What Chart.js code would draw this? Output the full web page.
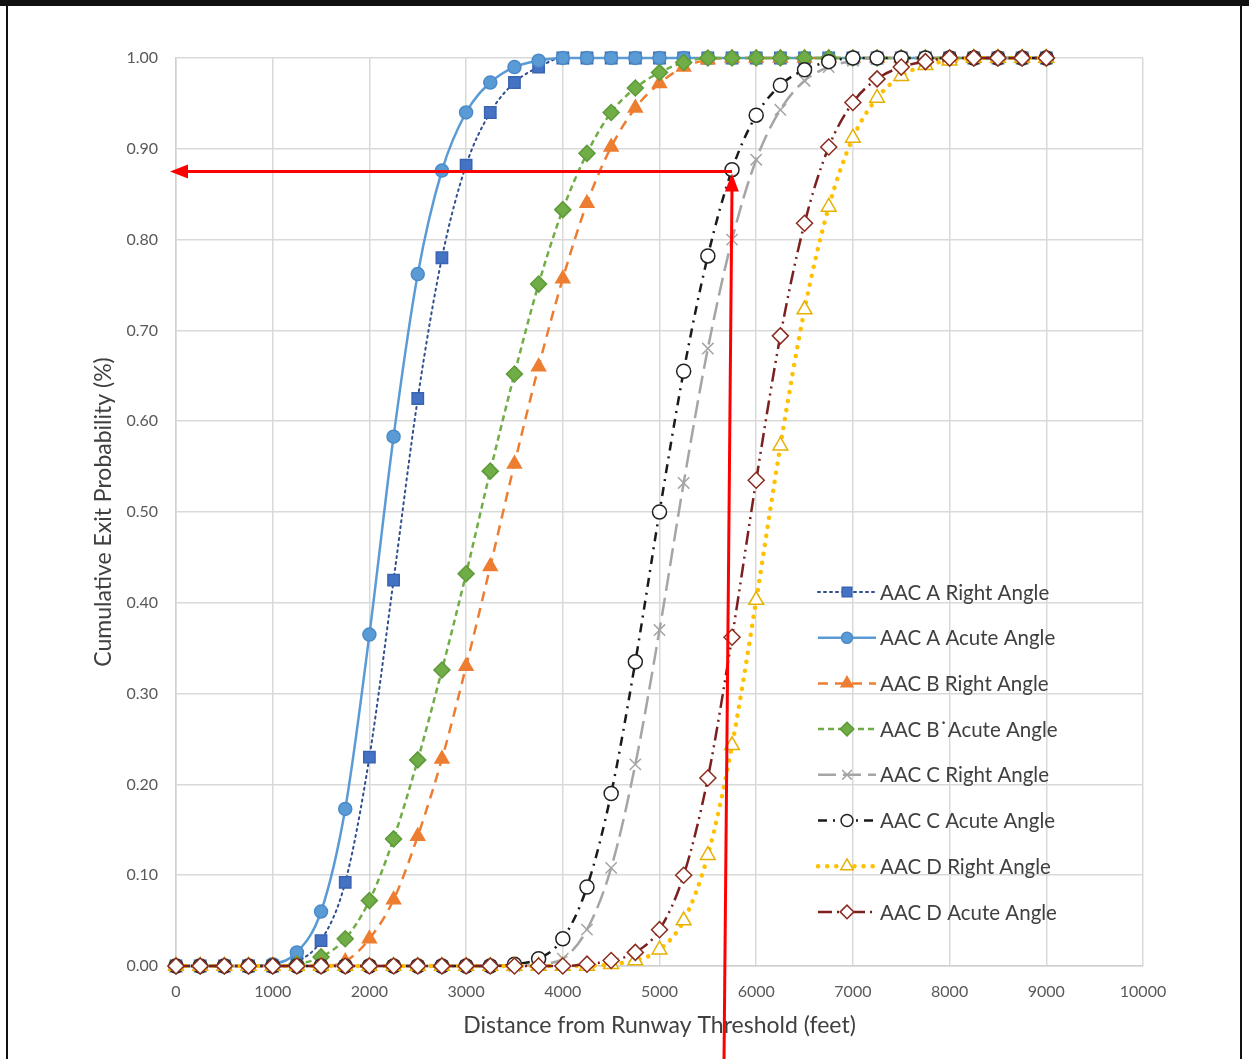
<!DOCTYPE html>
<html>
<head>
<meta charset="utf-8">
<script src="https://cdn.jsdelivr.net/npm/chart.js@4"></script>
<style>
  html, body { margin: 0; padding: 0; background: #fff; }
  #wrap { width: 1249px; height: 1059px; }
</style>
</head>
<body>
<div id="wrap"><canvas id="chart" width="1249" height="1059"></canvas></div>
<script>
// distance from threshold, every 250 ft
const distances = [0,250,500,750,1000,1250,1500,1750,2000,2250,2500,2750,3000,3250,3500,3750,4000,4250,4500,
  4750,5000,5250,5500,5750,6000,6250,6500,6750,7000,7250,7500,7750,8000,8250,8500,8750,9000]

const aRight = [0,0,0,0,0,0.005,0.028,0.092,0.23,0.425,0.625,0.78,0.882,0.94,0.973,0.99,1,1,1,
  1,1,1,1,1,1,1,1,1,1,1,1,1,1,1,1,1,1]
const aAcute = [0,0,0,0,0.002,0.015,0.06,0.173,0.365,0.583,0.762,0.876,0.94,0.973,0.99,0.997,1,1,1,
  1,1,1,1,1,1,1,1,1,1,1,1,1,1,1,1,1,1]
const bRight = [0,0,0,0,0,0,0,0.005,0.03,0.073,0.143,0.228,0.33,0.44,0.553,0.66,0.757,0.84,0.902,
  0.945,0.972,0.99,0.998,1,1,1,1,1,1,1,1,1,1,1,1,1,1]
const bAcute = [0,0,0,0,0,0.002,0.01,0.03,0.072,0.14,0.227,0.326,0.432,0.545,0.652,0.751,0.833,0.895,0.94,
  0.967,0.984,0.995,1,1,1,1,1,1,1,1,1,1,1,1,1,1,1]
const cRight = [0,0,0,0,0,0,0,0,0,0,0,0,0,0,0,0.002,0.008,0.04,0.108,
  0.222,0.37,0.532,0.68,0.8,0.888,0.943,0.975,0.99,0.997,1,1,1,1,1,1,1,1]
const cAcute = [0,0,0,0,0,0,0,0,0,0,0,0,0,0,0.002,0.008,0.03,0.087,0.19,
  0.335,0.5,0.655,0.782,0.877,0.937,0.97,0.987,0.996,1,1,1,1,1,1,1,1,1]
const dRight = [0,0,0,0,0,0,0,0,0,0,0,0,0,0,0,0,0,0,0.002,
  0.006,0.018,0.05,0.122,0.243,0.403,0.573,0.723,0.836,0.912,0.956,0.98,0.992,0.997,1,1,1,1]
const dAcute = [0,0,0,0,0,0,0,0,0,0,0,0,0,0,0,0,0,0.002,0.006,
  0.015,0.04,0.1,0.207,0.362,0.535,0.694,0.818,0.902,0.951,0.977,0.99,0.996,1,1,1,1,1]

const seriesNames = ["AAC A Right Angle", "AAC A Acute Angle", "AAC B Right Angle", "AAC B\u02D9Acute Angle",
  "AAC C Right Angle", "AAC C Acute Angle", "AAC D Right Angle", "AAC D Acute Angle"]

// the reading marked on the figure: 5750 ft -> 0.875
const markX = 5750
const markY = 0.875

const FONT = "Lato, 'Open Sans', sans-serif"

const styles = [
  { line: "#2f4f8f", fill: "#4472c4", border: "#3a64b0", dash: [2, 4], width: 2, point: "rect", r: 8, cap: "round" },
  { line: "#5b9bd5", fill: "#5b9bd5", border: "#4a8ac8", dash: [], width: 2.5, point: "circle", r: 6.5 },
  { line: "#ed7d31", fill: "#ed7d31", border: "#ed7d31", dash: [10, 7], width: 2.5, point: "triangle", r: 8 },
  { line: "#70ad47", fill: "#70ad47", border: "#5e9a38", dash: [6, 4], width: 2.5, point: "rectRot", r: 8 },
  { line: "#a5a5a5", fill: "#a5a5a5", border: "#a5a5a5", dash: [18, 7], width: 2.5, point: "crossRot", r: 8 },
  { line: "#1a1a1a", fill: "#ffffff", border: "#222222", dash: [9, 6, 2, 6], width: 2.5, point: "circle", r: 7 },
  { line: "#ffc000", fill: "#ffffff", border: "#e6b000", dash: [0.1, 9], width: 4.5, point: "triangle", r: 8.5, cap: "round" },
  { line: "#7b1f1f", fill: "#ffffff", border: "#8b2a1e", dash: [14, 5, 2, 5, 2, 5], width: 2.5, point: "rectRot", r: 8 },
]

const values = [aRight, aAcute, bRight, bAcute, cRight, cAcute, dRight, dAcute]

const datasets = values.map((vals, i) => {
  const s = styles[i]
  return {
    label: seriesNames[i],
    data: distances.map((d, k) => ({ x: d, y: vals[k] })),
    borderColor: s.line,
    borderWidth: s.width,
    borderDash: s.dash,
    borderCapStyle: s.cap || "butt",
    backgroundColor: s.fill,
    pointStyle: s.point,
    pointRadius: s.r,
    pointBackgroundColor: s.fill,
    pointBorderColor: s.border,
    pointBorderWidth: 1.5,
    cubicInterpolationMode: "monotone",
    tension: 0.4,
    fill: false,
    clip: false,
    order: 7 - i,
  }
})

const framePlugin = {
  id: "frame",
  beforeDraw(chart) {
    const { ctx, width, height } = chart
    ctx.save()
    ctx.fillStyle = "#fff"
    ctx.fillRect(0, 0, width, height)
    ctx.fillStyle = "#111"
    ctx.fillRect(0, 0, width, 6)
    ctx.fillRect(6, 0, 2, height)
    ctx.fillRect(1240, 0, 2, height)
    ctx.restore()
  },
}

const legendPlugin = {
  id: "insideLegend",
  afterDatasetsDraw(chart) {
    const { ctx } = chart
    ctx.save()
    chart.data.datasets.forEach((ds, i) => {
      const y = 592 + i * 45.7
      ctx.strokeStyle = ds.borderColor
      ctx.lineWidth = ds.borderWidth
      ctx.lineCap = ds.borderCapStyle
      ctx.setLineDash(ds.borderDash)
      ctx.beginPath()
      ctx.moveTo(818, y)
      ctx.lineTo(876, y)
      ctx.stroke()
      ctx.setLineDash([])
      ctx.fillStyle = ds.pointBackgroundColor
      ctx.strokeStyle = ds.pointBorderColor
      ctx.lineWidth = ds.pointBorderWidth
      Chart.helpers.drawPoint(ctx, { pointStyle: ds.pointStyle, radius: ds.pointRadius * 0.85, rotation: 0, borderWidth: ds.pointBorderWidth }, 847, y)
      ctx.fillStyle = "#404040"
      ctx.font = "20.5px " + FONT
      ctx.textBaseline = "middle"
      ctx.textAlign = "left"
      ctx.fillText(ds.label, 880, y + 1)
    })
    ctx.restore()
  },
}

function arrowHead(ctx, x, y, dx, dy, len, half) {
  const px = -dy, py = dx
  ctx.beginPath()
  ctx.moveTo(x, y)
  ctx.lineTo(x - dx * len + px * half, y - dy * len + py * half)
  ctx.lineTo(x - dx * len - px * half, y - dy * len - py * half)
  ctx.closePath()
  ctx.fill()
}

const arrowPlugin = {
  id: "readingArrows",
  afterDraw(chart) {
    const { ctx } = chart
    const xs = chart.scales.x, ys = chart.scales.y
    const tx = xs.getPixelForValue(markX)
    const ty = ys.getPixelForValue(markY)
    const leftX = xs.getPixelForValue(0) - 6
    ctx.save()
    ctx.strokeStyle = "#ff0000"
    ctx.fillStyle = "#ff0000"
    ctx.lineWidth = 3
    // horizontal arrow pointing to the y axis
    ctx.beginPath()
    ctx.moveTo(tx, ty)
    ctx.lineTo(leftX + 14, ty)
    ctx.stroke()
    arrowHead(ctx, leftX, ty, -1, 0, 18, 7)
    // vertical arrow coming up from below
    const bx = tx - 8, by = chart.height
    ctx.beginPath()
    ctx.moveTo(bx, by)
    ctx.lineTo(tx, ty + 14)
    ctx.stroke()
    const L = Math.hypot(tx - bx, ty - by)
    arrowHead(ctx, tx, ty + 2, (tx - bx) / L, (ty - by) / L, 18, 7)
    ctx.restore()
  },
}

new Chart(document.getElementById("chart"), {
  type: "line",
  data: { datasets },
  options: {
    responsive: false,
    animation: false,
    layout: { padding: { left: 90, top: 58, right: 106, bottom: 0 } },
    plugins: { legend: { display: false }, tooltip: { enabled: false } },
    scales: {
      x: {
        type: "linear",
        min: 0,
        max: 10000,
        ticks: { stepSize: 1000, color: "#595959", font: { family: FONT, size: 16 }, padding: 16, callback: v => String(v) },
        grid: { color: "#d9d9d9", lineWidth: 1.5, drawTicks: false },
        border: { color: "#d0d0d0", width: 1.5 },
        title: { display: true, text: "Distance from Runway Threshold (feet)", color: "#404040", font: { family: FONT, size: 23 }, padding: { top: 0, bottom: 20 } },
        afterFit(scale) { scale.height = 93 },
      },
      y: {
        min: 0,
        max: 1,
        ticks: { stepSize: 0.1, color: "#595959", font: { family: FONT, size: 16 }, padding: 18, callback: v => v.toFixed(2) },
        grid: { color: "#d9d9d9", lineWidth: 1.5, drawTicks: false },
        border: { color: "#d0d0d0", width: 1.5 },
        title: { display: true, text: "Cumulative Exit Probability (%)", color: "#404040", font: { family: FONT, size: 23 }, padding: { top: 0, bottom: 0 } },
        afterFit(scale) { scale.width = 86 },
      },
    },
  },
  plugins: [framePlugin, legendPlugin, arrowPlugin],
})
</script>
</body>
</html>
